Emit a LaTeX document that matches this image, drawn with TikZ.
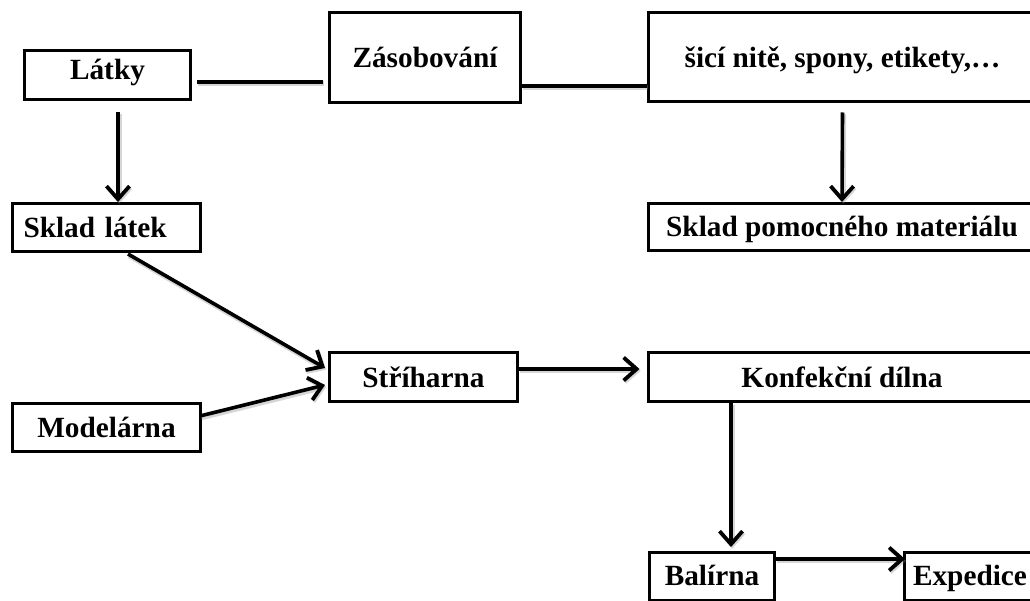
\documentclass[tikz,border=0pt]{standalone}
\usepackage{fontspec}
\setmainfont{Liberation Serif}
\usetikzlibrary{arrows.meta,calc}
\begin{document}
\begin{tikzpicture}[x=1pt,y=-1pt,
  box/.style={draw=black, line width=3pt, rectangle, inner sep=0pt,
    text height=26pt, text depth=6pt,
    font=\fontsize{29.3}{34}\selectfont\bfseries, align=center},
  link/.style={line width=3.6pt, draw=black,
    preaction={draw=black!45, opacity=0.35, line width=5pt,
      transform canvas={shift={(1.2,1.8)}}}},
  flow/.style={link, -{Straight Barb[length=13pt,width=23pt,line width=3.8pt]}}]
\useasboundingbox (0,0) rectangle (1030,601);
\clip (0,0) rectangle (1030,601);
\fill[white] (0,0) rectangle (1030,601);

% top row: supply
\node[box, minimum width=166pt, minimum height=49pt, text depth=16pt] (latky) at (107.5,75) {Látky};
\node[box, minimum width=191pt, minimum height=90pt, text height=27pt, text depth=6pt] (zas) at (425,57.5) {Zásobování};
\node[box, minimum width=388pt, minimum height=89pt, text height=27pt, text depth=6pt] (nite) at (842.5,57.5) {šicí nitě, spony, etikety,…};

% warehouses
\node[box, text width=166pt, inner xsep=11pt, align=left, minimum height=48pt] (skl) at (106.5,227.5) {Sklad látek};
\node[box, minimum width=388pt, minimum height=47pt] (skp) at (842,227) {Sklad pomocného materiálu};

% production
\node[box, minimum width=188pt, minimum height=49pt] (stri) at (423.5,377) {Stříharna};
\node[box, minimum width=188pt, minimum height=48pt] (model) at (106.5,427.5) {Modelárna};
\node[box, minimum width=388pt, minimum height=49pt] (konf) at (842,377) {Konfekční dílna};

% dispatch
\node[box, minimum width=125pt, minimum height=48pt, text depth=9pt] (bal) at (712,576.5) {Balírna};
\node[box, minimum width=131pt, minimum height=48pt, text depth=9pt] (exp) at (970,576.5) {Expedice};

% connectors
\draw[link] ($(latky.east)+(5,7)$) -- ($(zas.west |- latky.east)+(-5,7)$);
\draw[link] ($(zas.east)+(0,28.5)$) -- ($(nite.west)+(0,28.5)$);
\draw[flow] ($(latky.south)+(10.5,11)$) -- ($(skl.north)+(11.5,0)$);
\draw[flow] ($(nite.south)+(0,9)$) -- (skp.north);
\draw[flow] ($(skl.south)+(21.5,1)$) -- ($(stri.west)+(-3,-9)$);
\draw[flow] ($(model.east)+(-2,-11.5)$) -- ($(stri.west)+(-3,8)$);
\draw[flow] ($(stri.east)+(0,-8)$) -- ($(konf.west)+(-7,-8)$);
\draw[flow] ($(konf.south)+(-111,0)$) -- ($(bal.north)+(19,-4)$);
\draw[flow] ($(bal.north east)+(0,8)$) -- ($(exp.north west)+(2,8)$);
\end{tikzpicture}
\end{document}
